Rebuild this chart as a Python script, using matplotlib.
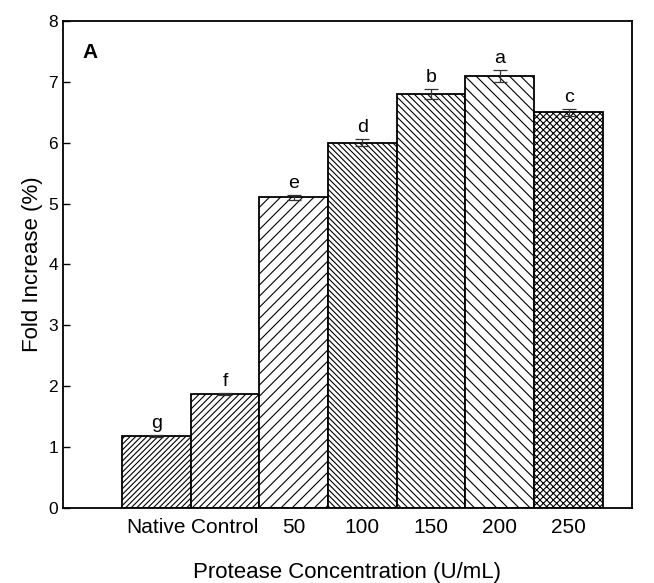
import numpy as np
import matplotlib.pyplot as plt

plt.rcParams['font.family'] = ['Liberation Sans', 'DejaVu Sans']
plt.rcParams['hatch.linewidth'] = 0.8
plt.rcParams['hatch.color'] = '#555555'

labels = ['Native', 'Control', '50', '100', '150', '200', '250']
fold = [1.18, 1.87, 5.10, 6.00, 6.80, 7.10, 6.50]
err = [0.02, 0.02, 0.04, 0.06, 0.08, 0.10, 0.06]
letters = ['g', 'f', 'e', 'd', 'b', 'a', 'c']
hatches = ['//////', '/////', '///', '\\\\\\\\\\\\', '\\\\\\\\\\', '\\\\\\', 'xxxxx']

fig = plt.figure(figsize=(6.54, 5.83), dpi=100)
ax = fig.add_axes([0.096, 0.129, 0.870, 0.835])

x = np.arange(len(labels))
for i in range(len(labels)):
    ax.bar(x[i], fold[i], width=1.0, color='white', edgecolor='black',
           linewidth=1.3, hatch=hatches[i], zorder=2)
ax.errorbar(x, fold, yerr=err, fmt='none', ecolor='#333333',
            elinewidth=0.9, capsize=5, capthick=0.9, zorder=3)
for i in range(len(labels)):
    ax.text(x[i], fold[i] + err[i] + 0.05, letters[i], ha='center',
            va='bottom', fontsize=14)

ax.set_xlim(-1.36, 6.92)
ax.set_ylim(0, 8)
ax.set_xticks(x)
ax.set_xticklabels(labels, fontsize=15)
ax.tick_params(axis='x', length=0, pad=7)
ax.tick_params(axis='y', direction='in', length=5, width=1, labelsize=12.5)
for s in ax.spines.values():
    s.set_linewidth(1.3)

ax.set_xlabel('Protease Concentration (U/mL)', fontsize=16, labelpad=18)
ax.set_ylabel('Fold Increase (%)', fontsize=16, labelpad=4)
ax.text(0.035, 0.955, 'A', transform=ax.transAxes, fontsize=15,
        fontweight='bold', va='top')

fig.savefig('out.png', dpi=100)
